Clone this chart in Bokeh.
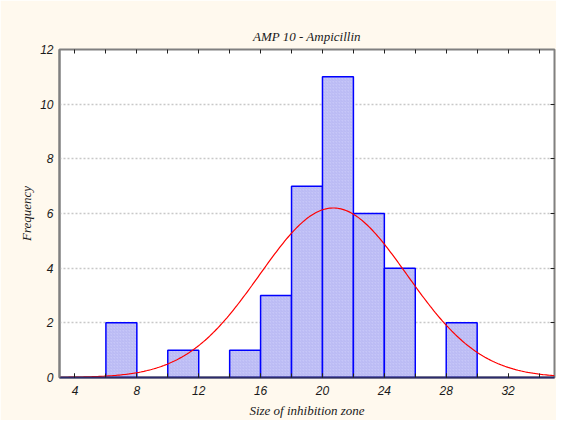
import numpy as np
from bokeh.plotting import figure
from bokeh.models import FixedTicker, LinearAxis, Range1d
from bokeh.embed import file_html
from bokeh.resources import INLINE

# ---- data ----
bin_left = [6, 10, 14, 16, 18, 20, 22, 24, 28]
bin_right = [8, 12, 16, 18, 20, 22, 24, 26, 30]
counts = [2, 1, 1, 3, 7, 11, 6, 4, 2]
x_ticks = [4, 8, 12, 16, 20, 24, 28, 32]
x_minor = [4, 6, 8, 10, 12, 14, 16, 18, 20, 22, 24, 26, 28, 30, 32, 34]
y_ticks = [0, 2, 4, 6, 8, 10, 12]
grid_ticks = [2, 4, 6, 8, 10]
# fitted normal curve parameters (expected frequency curve)
fit_mean = 20.7
fit_sd = 4.76
n_obs = 37
bin_width = 2

TICK_FONT = "Liberation Sans"
TEXT_FONT = "Liberation Serif"

W, H = 556, 420
p = figure(width=W, height=H, x_range=Range1d(3, 35), y_range=Range1d(0, 12),
           output_backend="svg", toolbar_location=None,
           min_border_left=59, min_border_right=2, min_border_top=49, min_border_bottom=41,
           background_fill_color="white", border_fill_color="#FFF9EE",
           title="AMP 10 - Ampicillin")

p.title.align = "center"
p.title.text_font = TEXT_FONT
p.title.text_font_style = "italic"
p.title.text_font_size = "13px"
p.title.text_color = "#1a1a1a"
p.title.standoff = 12

p.outline_line_color = "#808080"
p.outline_line_width = 2

p.xgrid.visible = False
p.ygrid.ticker = FixedTicker(ticks=grid_ticks)
p.ygrid.grid_line_color = "#C8C8C8"
p.ygrid.grid_line_dash = "2 2"
p.ygrid.grid_line_width = 1.5

p.quad(left=bin_left, right=bin_right, bottom=0, top=counts,
       fill_color="#C6C6F8", line_color="#0000FF", line_width=1.5,
       hatch_pattern="/", hatch_color="#A8A8EC", hatch_scale=3, hatch_weight=0.5)

xs = np.linspace(3, 35, 300)
ys = n_obs * bin_width * np.exp(-0.5 * ((xs - fit_mean) / fit_sd) ** 2) / (fit_sd * np.sqrt(2 * np.pi))
p.line(xs, ys, line_color="#FF0000", line_width=1.2)

xa = p.xaxis[0]
xa.ticker = FixedTicker(ticks=x_ticks, minor_ticks=x_minor)
xa.major_tick_in = 4
xa.major_tick_out = 0
xa.minor_tick_in = 4
xa.minor_tick_out = 0
xa.major_tick_line_color = "#202020"
xa.minor_tick_line_color = "#202020"
xa.axis_line_color = "#2B2B6B"
xa.axis_line_width = 2
xa.major_label_text_font = TICK_FONT
xa.major_label_text_font_style = "italic"
xa.major_label_text_font_size = "12px"
xa.major_label_text_color = "#1a1a1a"
xa.major_label_standoff = 8
xa.axis_label = "Size of inhibition zone"
xa.axis_label_text_font = TEXT_FONT
xa.axis_label_text_font_style = "italic"
xa.axis_label_text_font_size = "13px"
xa.axis_label_text_color = "#1a1a1a"
xa.axis_label_standoff = 5

ya = p.yaxis[0]
ya.ticker = FixedTicker(ticks=y_ticks)
ya.major_tick_in = 0
ya.major_tick_out = 0
ya.minor_tick_line_color = None
ya.axis_line_color = "#808080"
ya.axis_line_width = 2
ya.major_label_text_font = TICK_FONT
ya.major_label_text_font_style = "italic"
ya.major_label_text_font_size = "12px"
ya.major_label_text_color = "#1a1a1a"
ya.major_label_standoff = 6
ya.axis_label = "Frequency"
ya.axis_label_text_font = TEXT_FONT
ya.axis_label_text_font_style = "italic"
ya.axis_label_text_font_size = "13px"
ya.axis_label_text_color = "#1a1a1a"
ya.axis_label_standoff = 3

top = LinearAxis(ticker=FixedTicker(ticks=[], minor_ticks=x_minor),
                 minor_tick_in=4, minor_tick_out=0, minor_tick_line_color="#202020",
                 axis_line_color=None, major_label_text_font_size="0px",
                 major_label_standoff=5)
p.add_layout(top, "above")
right = LinearAxis(ticker=FixedTicker(ticks=[], minor_ticks=grid_ticks),
                   minor_tick_in=4, minor_tick_out=0, minor_tick_line_color="#202020",
                   axis_line_color=None, major_label_text_font_size="0px")
p.add_layout(right, "right")

open("out.html", "w").write(file_html(p, INLINE))
